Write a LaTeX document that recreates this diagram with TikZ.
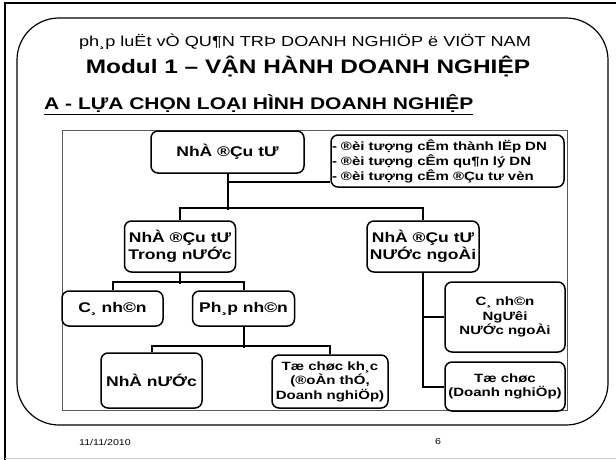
\documentclass[tikz,border=0pt]{standalone}
\usepackage{fontspec}
\setmainfont{Liberation Sans}[FakeStretch=1.25]
\usetikzlibrary{positioning}
\tikzset{
  unit/.style={draw, line width=1.5pt, rounded corners=7pt, align=center,
    font=\bfseries\fontsize{14}{17}\selectfont, inner sep=1pt},
  small/.style={font=\bfseries\fontsize{12}{14.5}\selectfont},
  link/.style={line width=2pt},
}
\begin{document}
\begin{tikzpicture}[x=1pt,y=-1pt]
\useasboundingbox (0,0) rectangle (616,460);
% slide frame
\draw[line width=1.5pt] (616,3) -- (5,3) -- (5,460);
\draw[gray!40] (5,458) -- (616,458);
\draw[line width=1.2pt, rounded corners=42pt] (17,18) rectangle (608,425);
\draw[line width=0.6pt, gray!70!black] (62,130) rectangle (567,410);
% titles
\node[font=\fontsize{14.5}{18}\selectfont] (subject) at (305,42) {ph¸p luËt vÒ QU¶N TRÞ DOANH NGHIÖP ë VIÖT NAM};
\node[font=\bfseries\fontsize{19.5}{22}\selectfont] (modul) at (308,67) {Modul 1 – VẬN HÀNH DOANH NGHIỆP};
\node[font=\bfseries\fontsize{16.8}{19}\selectfont, anchor=base west, inner sep=0pt] (section) at (44,110) {\underline{A - LỰA CHỌN LOẠI HÌNH DOANH NGHIỆP}};
% nodes
\node[unit, minimum width=153pt, minimum height=42pt] (investor) at (227.5,152) {NhÀ ®Çu tƯ};
\node[unit, font=\bfseries\fontsize{12}{15}\selectfont, minimum height=52pt, text width=231pt, align=left] (banned) at (447.5,161) {- ®èi tượng cÊm thành lËp DN\\- ®èi tượng cÊm qu¶n lý DN\\- ®èi tượng cÊm ®Çu tư vèn};
\node[unit, minimum width=111pt, minimum height=51pt] (domestic) at (180,246.5) {NhÀ ®Çu tƯ\\Trong nƯỚc};
\node[unit, minimum width=112pt, minimum height=51pt] (foreign) at (423,246.5) {NhÀ ®Çu tƯ\\NƯỚc ngoÀi};
\node[unit, minimum width=101pt, minimum height=35pt] (person) at (112.5,308.5) {C¸ nh©n};
\node[unit, minimum width=102pt, minimum height=35pt, right=28pt of person] (legal) {Ph¸p nh©n};
\node[unit, minimum width=101pt, minimum height=55pt] (state) at (151.5,380.5) {NhÀ nƯỚc};
\node[unit, small, minimum width=116pt, minimum height=53pt] (otherorg) at (330,381.5) {Tæ chøc kh¸c\\(®oÀn thÓ,\\Doanh nghiÖp)};
\node[unit, small, minimum width=120pt, minimum height=70pt] (foreigner) at (505,317) {C¸ nh©n\\NgƯêi\\NƯỚc ngoÀi};
\node[unit, small, minimum width=120pt, minimum height=49pt] (firm) at (505,386.5) {Tæ chøc\\(Doanh nghiÖp)};
\coordinate[below=8pt of investor.south] (tap);
% edges
\draw[link] (investor.south) -- ++(0,36);
\draw[link] (tap) -- (tap -| banned.west);
\draw[link] (domestic.north) -- ++(0,-12) -| (foreign.north);
\draw[link] (domestic.south) -- ++(0,11);
\draw[link] (person.north) -- ++(0,-8) -| (legal.north);
\draw[link] (legal.south) -- ++(0,21);
\draw[link] (state.north) -- ++(0,-6) -| (otherorg.north);
\draw[link] (foreign.south) |- (firm.west);
\draw[link] (foreign.south |- foreigner.west) -- (foreigner.west);
% footer
\node[font=\fontsize{8.5}{10}\selectfont] (date) at (105,442) {11/11/2010};
\node[font=\fontsize{8.5}{10}\selectfont] (page) at (438,442) {6};
\end{tikzpicture}
\end{document}
